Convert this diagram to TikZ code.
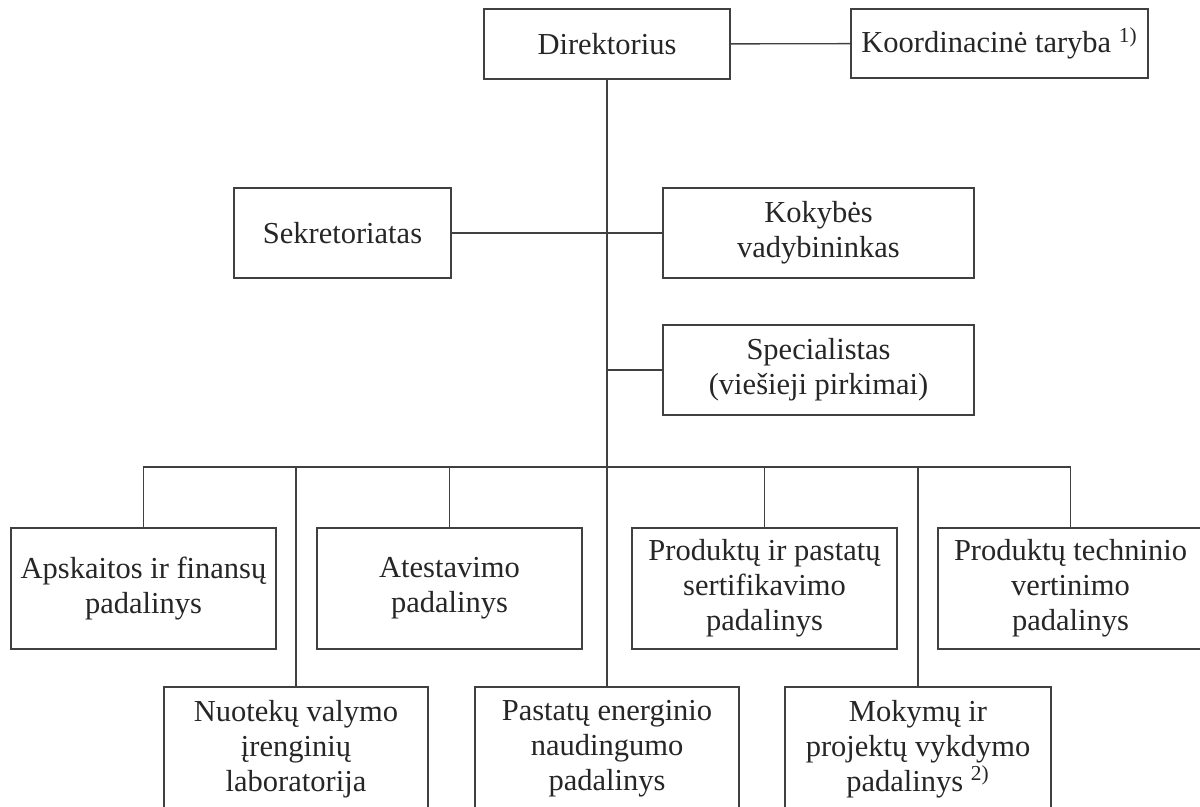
\documentclass[tikz,border=0pt]{standalone}
\usepackage{fontspec}
\setmainfont{Liberation Serif}
\tikzset{
  unit/.style={rectangle,draw=black!75,line width=0.7pt,align=center,text=black!85,
    inner sep=2pt,font=\fontsize{15.25}{17.5}\selectfont},
  dept/.style={unit,minimum width=132.5pt,minimum height=60.5pt},
  link/.style={draw=black!75,line width=0.7pt}
}
\begin{document}
\begin{tikzpicture}[x=0.5pt,y=-0.5pt]
\useasboundingbox (0,0) rectangle (1200,807);

\coordinate (D) at (607,44);
\coordinate (K) at (999.5,43.5);
\coordinate (S) at (342.5,233);
\coordinate (Q) at (818.5,233);
\coordinate (P) at (818.5,370);
\coordinate (bus) at (607,467);

% top level
\node[unit,minimum width=123pt,minimum height=35pt] (dir) at (D) {Direktorius};
\node[unit,minimum width=148.5pt,minimum height=34.5pt] (koord) at (K) {Koordinacinė taryba \textsuperscript{1)}};
\node[unit,minimum width=108.5pt,minimum height=45pt] (sek) at (S) {Sekretoriatas};
\node[unit,minimum width=155.5pt,minimum height=45pt] (kok) at (Q) {Kokybės\\vadybininkas};
\node[unit,minimum width=155.5pt,minimum height=45pt] (spec) at (P) {Specialistas\\(viešieji pirkimai)};

% departments, upper row
\node[dept] (aps) at (143.5,588.5) {Apskaitos ir finansų\\padalinys};
\node[dept] (ates) at (449.5,588.5) {Atestavimo\\padalinys};
\node[dept] (prod) at (764.5,588.5) {Produktų ir pastatų\\sertifikavimo\\padalinys};
\node[dept] (tech) at (1070.5,588.5) {Produktų techninio\\vertinimo\\padalinys};

% departments, lower row
\node[dept,minimum width=132pt,minimum height=62pt] (nuo) at (296,749) {Nuotekų valymo\\įrenginių\\laboratorija};
\node[dept,minimum width=132pt,minimum height=62pt] (pas) at (607,749) {Pastatų energinio\\naudingumo\\padalinys};
\node[dept,minimum width=133pt,minimum height=62pt] (mok) at (918,749) {Mokymų ir\\projektų vykdymo\\padalinys \textsuperscript{2)}};

\draw[link] (dir) -- (koord);
\draw[link] (dir.south) -- (pas.north);
\draw[link] (sek) -- (kok);
\draw[link] (spec.west) -- (spec.west -| dir.south);
\draw[link] (aps.north) |- (bus) -| (tech.north);
\draw[link] (ates.north) -- (ates.north |- bus);
\draw[link] (prod.north) -- (prod.north |- bus);
\draw[link] (nuo.north) -- (nuo.north |- bus);
\draw[link] (mok.north) -- (mok.north |- bus);

\end{tikzpicture}
\end{document}
